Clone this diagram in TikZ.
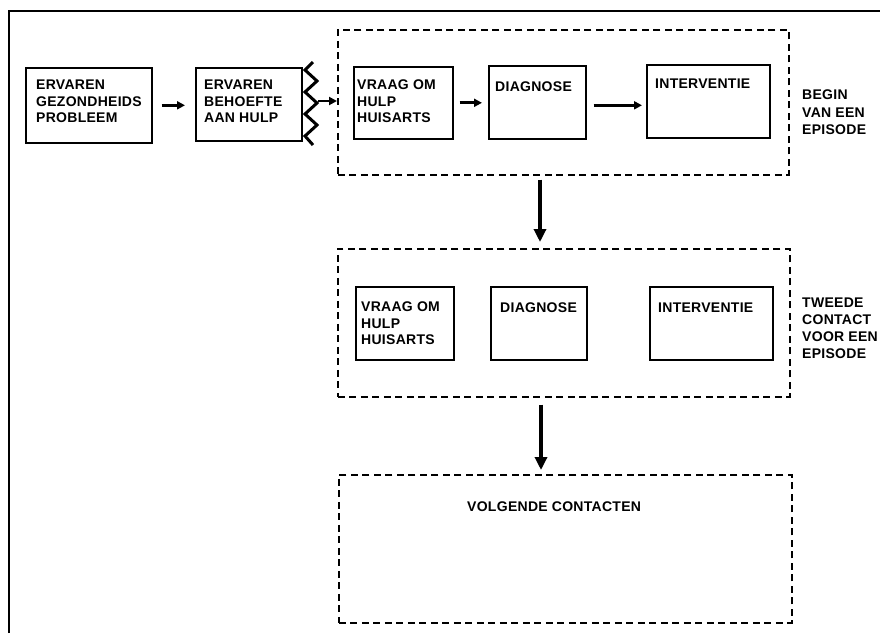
\documentclass[tikz,border=0pt]{standalone}
\usepackage{fontspec}
\setmainfont[LetterSpace=2]{Liberation Sans}
\usetikzlibrary{arrows.meta,calc}
\begin{document}
\begin{tikzpicture}[x=1pt,y=-1pt,
  box/.style={draw, line width=1.6pt, inner sep=0pt, anchor=north west},
  grp/.style={draw, dash pattern=on 7pt off 4.5pt, line width=1.5pt, inner sep=0pt, anchor=north west},
  lbl/.style={anchor=north west, inner sep=0pt, align=left, font=\fontsize{14}{16.3}\selectfont\bfseries},
  side/.style={lbl, font=\fontsize{14}{17.5}\selectfont\bfseries},
  arr/.style={-{Triangle[length=8pt,width=8pt]}, line width=2.8pt},
  varr/.style={-{Triangle[length=13pt,width=12pt]}, line width=3.2pt}]
\useasboundingbox (0,0) rectangle (880,633);

% outer frame (top and left edges)
\draw[line width=1.8pt] (9,633) -- (9,11) -- (880,11);

% first row
\node[box, minimum width=126pt, minimum height=75pt] (b1) at (25,67) {};
\node[box, minimum width=106pt, minimum height=73pt] (b2) at (195,67) {};
\node[grp, minimum width=451pt, minimum height=145pt] (g1) at (337,29) {};
\node[box, minimum width=99pt, minimum height=72pt] (v1) at (353,66) {};
\node[box, minimum width=97pt, minimum height=73pt] (d1) at (488,65) {};
\node[box, minimum width=123pt, minimum height=73pt] (i1) at (646,64) {};

\node[lbl] (t1) at (36,80) {ERVAREN\\GEZONDHEIDS\\PROBLEEM};
\node[lbl] (t2) at (204,80) {ERVAREN\\BEHOEFTE\\AAN HULP};
\node[lbl] (t3) at (357,80) {VRAAG OM\\HULP\\HUISARTS};
\node[lbl] (t4) at (495,82) {DIAGNOSE};
\node[lbl] (t5) at (655,79) {INTERVENTIE};
\node[side] (s1) at (802,90) {BEGIN\\VAN EEN\\EPISODE};

% barrier between need for help and the episode
\draw[line width=3pt, line join=miter] (313,62) -- (305,70) -- (317,81) -- (305,92)
  -- (317,103) -- (305,114) -- (317,125) -- (305,136) -- (313,145);
\coordinate (zz) at (318,101);

\draw[arr, shorten <=9pt, shorten >=10pt] (b1.east) -- (b1.east -| b2.west);
\draw[arr] (zz) -- (zz -| g1.west);
\draw[arr, shorten <=6pt, shorten >=6pt] (v1.east) -- (v1.east -| d1.west);
\draw[arr, shorten <=7pt, shorten >=4pt] (d1.east) ++(0,3) coordinate (d1r) (d1r) -- (d1r -| i1.west);

% second row
\node[grp, minimum width=452pt, minimum height=148pt] (g2) at (337,248) {};
\node[box, minimum width=98pt, minimum height=73pt] (v2) at (355,286) {};
\node[box, minimum width=96pt, minimum height=73pt] (d2) at (490,286) {};
\node[box, minimum width=123pt, minimum height=73pt] (i2) at (649,286) {};

\node[lbl] (t6) at (361,302) {VRAAG OM\\HULP\\HUISARTS};
\node[lbl] (t7) at (500,303) {DIAGNOSE};
\node[lbl] (t8) at (658,303) {INTERVENTIE};
\node[lbl, font=\fontsize{14}{17}\selectfont\bfseries] (s2) at (802,298) {TWEEDE\\CONTACT\\VOOR EEN\\EPISODE};

% third row
\node[grp, minimum width=453pt, minimum height=148pt] (g3) at (338,474) {};
\node[lbl] (t9) at (467,502) {VOLGENDE CONTACTEN};

% vertical connectors
\coordinate (ax1) at (540,0);
\coordinate (ax2) at (541,0);
\draw[varr, shorten <=4pt, shorten >=6pt] (g1.south -| ax1) -- (g2.north -| ax1);
\draw[varr, shorten <=7pt, shorten >=4pt] (g2.south -| ax2) -- (g3.north -| ax2);
\end{tikzpicture}
\end{document}
